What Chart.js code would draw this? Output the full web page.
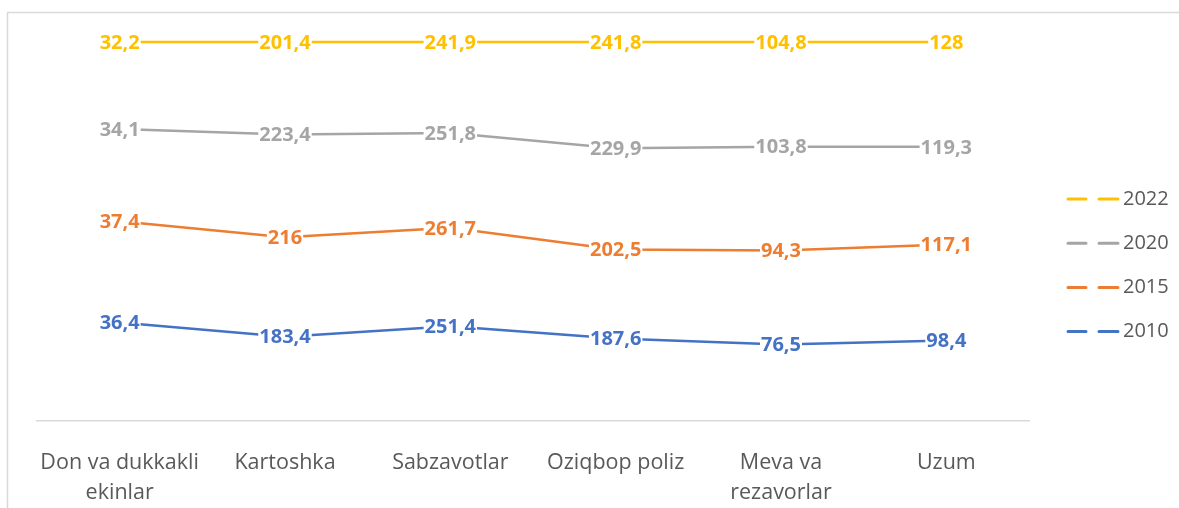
<!DOCTYPE html>
<html>
<head>
<meta charset="utf-8">
<script src="https://cdn.jsdelivr.net/npm/chart.js@4/dist/chart.umd.min.js"></script>
<style>
html,body{margin:0;padding:0;background:#fff;overflow:hidden;}
canvas{display:block;}
</style>
</head>
<body>
<canvas id="c" width="1179" height="508"></canvas>
<script>
const categories = [["Don va dukkakli","ekinlar"],"Kartoshka","Sabzavotlar","Oziqbop poliz",["Meva va","rezavorlar"],"Uzum"];
const seriesNames = ["2010","2015","2020","2022"];
const v2010 = [36.4,183.4,251.4,187.6,76.5,98.4];
const v2015 = [37.4,216,261.7,202.5,94.3,117.1];
const v2020 = [34.1,223.4,251.8,229.9,103.8,119.3];
const v2022 = [32.2,201.4,241.9,241.8,104.8,128];
const colors = ["#4472C4","#ED7D31","#A5A5A5","#FFC000"];

const raw = [v2010,v2015,v2020,v2022];
const totals = categories.map((_,i)=>raw.reduce((s,a)=>s+a[i],0));
const datasets = raw.map((arr,k)=>({
  label: seriesNames[k],
  data: arr.map((v,i)=>v/totals[i]*100),
  rawValues: arr,
  borderColor: colors[k],
  backgroundColor: colors[k],
  borderWidth: 2.5,
  pointRadius: 0,
  pointHoverRadius: 0,
  tension: 0,
  fill: false,
  clip: false,
  borderCapStyle: 'round',
  borderJoinStyle: 'round'
}));

function fmt(v){ return String(v).replace('.', ','); }

const framePlugin = {
  id:'frame',
  beforeDraw(chart){
    const ctx = chart.ctx;
    ctx.save();
    ctx.strokeStyle = '#d9d9d9';
    ctx.lineWidth = 1.5;
    ctx.beginPath();
    ctx.moveTo(7.5, 520);
    ctx.lineTo(7.5, 12.5);
    ctx.lineTo(1190, 12.5);
    ctx.stroke();
    ctx.restore();
  }
};

const labelPlugin = {
  id:'valLabels',
  afterDatasetsDraw(chart){
    const ctx = chart.ctx;
    ctx.save();
    ctx.font = 'bold 20px "Open Sans"';
    ctx.textAlign = 'center';
    ctx.textBaseline = 'middle';
    chart.data.datasets.forEach((ds,k)=>{
      const meta = chart.getDatasetMeta(k);
      meta.data.forEach((pt,i)=>{
        const t = fmt(ds.rawValues[i]);
        const w = ctx.measureText(t).width;
        ctx.fillStyle = '#ffffff';
        ctx.fillRect(pt.x - w/2 - 1, pt.y - 10, w + 2, 20);
        ctx.fillStyle = ds.borderColor;
        ctx.fillText(t, pt.x, pt.y + 1);
      });
    });
    ctx.restore();
  }
};

const legendPlugin = {
  id:'customLegend',
  afterDraw(chart){
    const ctx = chart.ctx;
    ctx.save();
    const x0 = 1068, y0 = 199, step = 44.2;
    const dss = chart.data.datasets.slice().reverse();
    dss.forEach((ds,j)=>{
      const y = y0 + j*step;
      ctx.strokeStyle = ds.borderColor;
      ctx.lineWidth = 3;
      ctx.lineCap = 'round';
      ctx.beginPath();
      ctx.moveTo(x0, y); ctx.lineTo(x0+18, y);
      ctx.moveTo(x0+31, y); ctx.lineTo(x0+50, y);
      ctx.stroke();
      ctx.fillStyle = '#595959';
      ctx.font = '20px "Open Sans"';
      ctx.textAlign = 'left';
      ctx.textBaseline = 'middle';
      ctx.fillText(ds.label, x0+55, y);
    });
    ctx.restore();
  }
};

new Chart(document.getElementById('c'), {
  type:'line',
  data:{ labels: categories, datasets },
  plugins:[framePlugin, labelPlugin, legendPlugin],
  options:{
    responsive:false,
    animation:false,
    events:[],
    layout:{ padding:{ left:37, right:150, top:42, bottom:0 } },
    plugins:{ legend:{display:false}, tooltip:{enabled:false} },
    scales:{
      x:{
        offset:true,
        grid:{ display:false },
        border:{ display:true, color:'#d9d9d9', width:1.5 },
        ticks:{ color:'#595959', font:{ family:'"Open Sans"', size:21.5, lineHeight:1.4 }, padding:19, maxRotation:0, autoSkip:false },
        afterFit(scale){ scale.height = 87; }
      },
      y:{
        display:false,
        stacked:true,
        min:0, max:100
      }
    }
  }
});
</script>
</body>
</html>
